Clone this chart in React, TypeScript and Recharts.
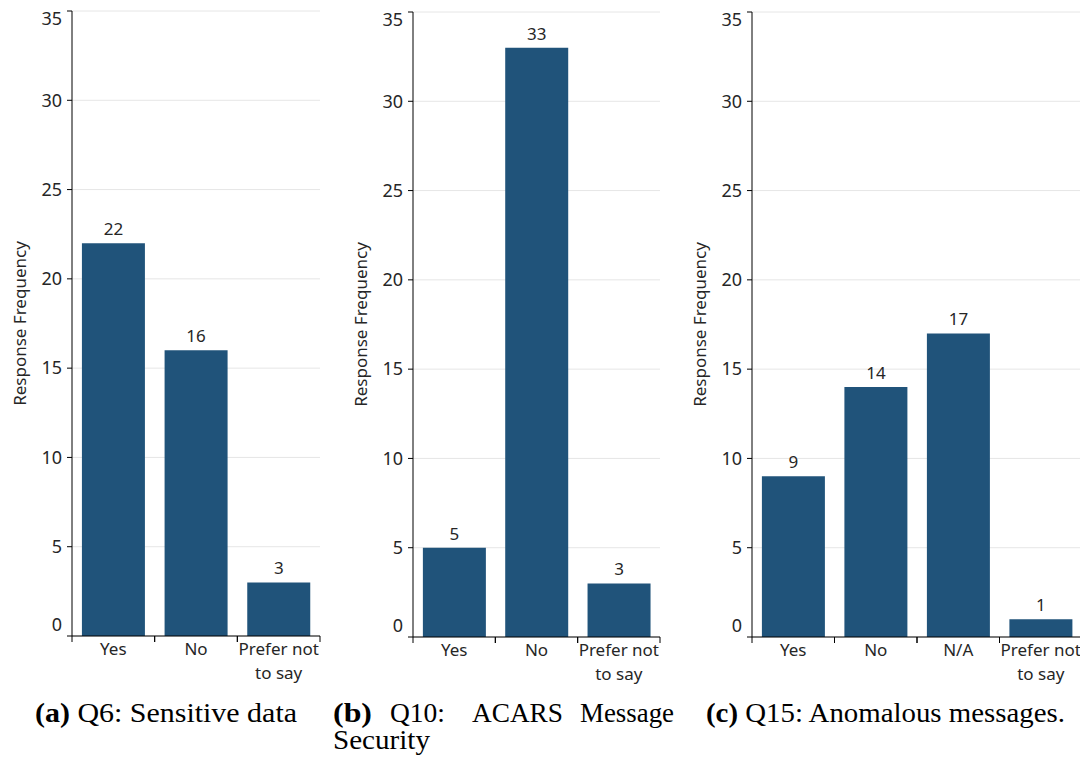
import React from 'react';
import { BarChart, Bar, XAxis, YAxis, CartesianGrid, LabelList } from 'recharts';

// Survey responses, one panel per question
const q6Categories = ['Yes', 'No', 'Prefer not to say'];
const q6Counts = [22, 16, 3];

const q10Categories = ['Yes', 'No', 'Prefer not to say'];
const q10Counts = [5, 33, 3];

const q15Categories = ['Yes', 'No', 'N/A', 'Prefer not to say'];
const q15Counts = [9, 14, 17, 1];

const yTicks = [0, 5, 10, 15, 20, 25, 30, 35];
const Y_MAX = 35;
const Y_TITLE = 'Response Frequency';

const SANS = '"Noto Sans", "Open Sans", sans-serif';
const SERIF = '"Liberation Serif", serif';
const BAR_COLOR = '#20537a';
const TEXT = '#262626';

const CHART_H = 700;
const TOP_MARGIN = 11;
const X_AXIS_H = 50;
const BOTTOM_MARGIN = 14;
const Y_AXIS_W = 72;
const RIGHT_MARGIN = 10;

// Break long category names onto two lines
function wrapLabel(s: string, max = 10): string[] {
  if (s.length <= max) return [s];
  const cut = s.lastIndexOf(' ', max);
  if (cut <= 0) return [s];
  return [s.slice(0, cut), s.slice(cut + 1)];
}

type PanelProps = {
  categories: string[];
  counts: number[];
  plotWidth: number;
  left: number;
  top: number;
};

function Panel({ categories, counts, plotWidth, left, top }: PanelProps) {
  const data = categories.map((c, i) => ({ cat: c, count: counts[i] }));
  const width = Y_AXIS_W + plotWidth + RIGHT_MARGIN;
  const axisY = CHART_H - BOTTOM_MARGIN - X_AXIS_H;
  const band = plotWidth / categories.length;

  const renderXTick = (props: any) => {
    const { x, payload } = props;
    const lines = wrapLabel(String(payload.value));
    return (
      <g>
        <line x1={x - band / 2} x2={x - band / 2} y1={axisY} y2={axisY + 6} stroke="#000" />
        <line x1={x + band / 2} x2={x + band / 2} y1={axisY} y2={axisY + 6} stroke="#000" />
        <text x={x} y={axisY + 18.5} textAnchor="middle" fontFamily={SANS} fontSize={17} fill={TEXT}>
          {lines.map((l, i) => (
            <tspan key={i} x={x} dy={i === 0 ? 0 : 24}>
              {l}
            </tspan>
          ))}
        </text>
      </g>
    );
  };

  const renderYTick = (props: any) => {
    const { x, y, payload } = props;
    const v = payload.value;
    // first and last labels sit flush with the ends of the axis
    let dy = 6.3;
    if (v === Y_MAX) dy = 14;
    else if (v === 0) dy = -5;
    return (
      <text x={x} y={y} dy={dy} textAnchor="end" fontFamily={SANS} fontSize={18} fill={TEXT}>
        {v}
      </text>
    );
  };

  return (
    <div style={{ position: 'absolute', left, top }}>
      <BarChart
        width={width}
        height={CHART_H}
        data={data}
        margin={{ top: TOP_MARGIN, right: RIGHT_MARGIN, bottom: BOTTOM_MARGIN, left: 0 }}
        barCategoryGap="12%"
      >
        <CartesianGrid vertical={false} stroke="#e6e6e6" />
        <XAxis
          dataKey="cat"
          interval={0}
          height={X_AXIS_H}
          axisLine={{ stroke: '#000' }}
          tickLine={false}
          tick={renderXTick}
        />
        <YAxis
          type="number"
          domain={[0, Y_MAX]}
          ticks={yTicks}
          interval={0}
          width={Y_AXIS_W}
          axisLine={{ stroke: '#000' }}
          tickLine={{ stroke: '#000' }}
          tickSize={5}
          tickMargin={5}
          tick={renderYTick}
          label={{
            value: Y_TITLE,
            angle: -90,
            position: 'center',
            dx: -16,
            style: { fontFamily: SANS, fontSize: 17, fill: TEXT },
          }}
        />
        <Bar dataKey="count" fill={BAR_COLOR} isAnimationActive={false}>
          <LabelList
            dataKey="count"
            position="top"
            offset={8}
            fill={TEXT}
            fontSize={17}
            fontFamily={SANS}
          />
        </Bar>
      </BarChart>
    </div>
  );
}

export default function App() {
  return (
    <div
      style={{
        position: 'absolute',
        left: 0,
        top: 0,
        width: 1080,
        height: 758,
        overflow: 'hidden',
        background: '#fff',
      }}
    >
      <Panel categories={q6Categories} counts={q6Counts} plotWidth={248} left={0} top={0} />
      <Panel categories={q10Categories} counts={q10Counts} plotWidth={247} left={341} top={1} />
      <Panel categories={q15Categories} counts={q15Counts} plotWidth={330} left={680} top={1} />
      <svg
        width={1080}
        height={758}
        style={{ position: 'absolute', left: 0, top: 0, pointerEvents: 'none' }}
        fontFamily={SERIF}
        fontSize={27}
        fill="#000"
      >
        <text x={35} y={722} textLength={262} lengthAdjust="spacingAndGlyphs">
          <tspan fontWeight="bold">(a)</tspan> Q6: Sensitive data
        </text>
        <text x={333} y={722} textLength={39} lengthAdjust="spacingAndGlyphs" fontWeight="bold">(b)</text>
        <text x={390} y={722} textLength={55} lengthAdjust="spacingAndGlyphs">Q10:</text>
        <text x={472} y={722} textLength={91} lengthAdjust="spacingAndGlyphs">ACARS</text>
        <text x={580} y={722} textLength={94} lengthAdjust="spacingAndGlyphs">Message</text>
        <text x={333} y={749} textLength={97} lengthAdjust="spacingAndGlyphs">Security</text>
        <text x={706} y={722} textLength={359} lengthAdjust="spacingAndGlyphs">
          <tspan fontWeight="bold">(c)</tspan> Q15: Anomalous messages.
        </text>
      </svg>
    </div>
  );
}
